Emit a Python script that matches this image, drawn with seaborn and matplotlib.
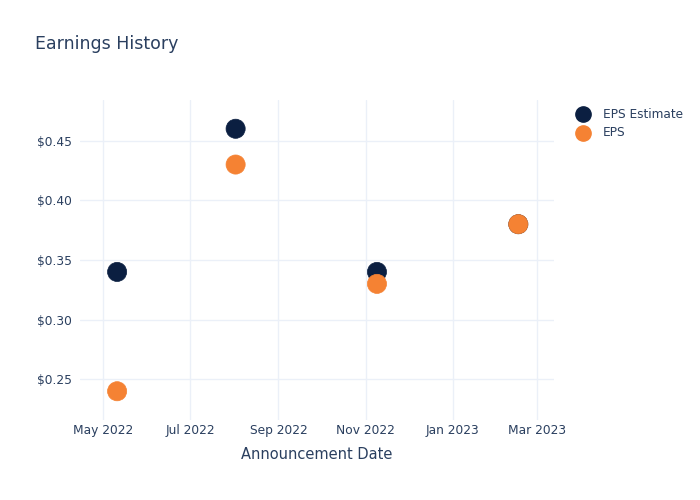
import matplotlib
matplotlib.use("Agg")
import matplotlib.pyplot as plt
import matplotlib.dates as mdates
import seaborn as sns
import pandas as pd
from matplotlib.ticker import FuncFormatter

dates = ["2022-05-11", "2022-08-02", "2022-11-09", "2023-02-16"]
eps_estimate = [0.34, 0.46, 0.34, 0.38]
eps_actual = [0.24, 0.43, 0.33, 0.38]
series_names = ["EPS Estimate", "EPS"]
tick_dates = ["2022-05-01", "2022-07-01", "2022-09-01", "2022-11-01", "2023-01-01", "2023-03-01"]
tick_labels = ["May 2022", "Jul 2022", "Sep 2022", "Nov 2022", "Jan 2023", "Mar 2023"]
y_ticks = [0.25, 0.30, 0.35, 0.40, 0.45]

df = pd.DataFrame({
    "date": pd.to_datetime(dates * 2),
    "value": eps_estimate + eps_actual,
    "series": [series_names[0]] * len(dates) + [series_names[1]] * len(dates),
})

sns.set_style("white")
plt.rcParams["font.family"] = ["DejaVu Sans"]
text_color = "#2a3f5f"
grid_color = "#EBF0F8"
palette = {"EPS Estimate": "#0B1F41", "EPS": "#F58233"}

fig = plt.figure(figsize=(7, 5), dpi=100)
ax = fig.add_axes([80/700, 1-420/500, (554-80)/700, (420-100)/500])

sns.scatterplot(data=df, x="date", y="value", hue="series", palette=palette,
                s=190, linewidth=0.5, ax=ax, legend=False, zorder=3)
for coll in ax.collections:
    coll.set_edgecolor(coll.get_facecolor())

ax.set_xlim(pd.Timestamp("2022-04-15"), pd.Timestamp("2023-03-13"))
ax.set_ylim(0.2159, 0.4841)
ax.set_xticks(pd.to_datetime(tick_dates))
ax.set_xticklabels(tick_labels)
ax.set_yticks(y_ticks)
ax.yaxis.set_major_formatter(FuncFormatter(lambda v, p: f"${v:.2f}"))

ax.grid(True, color=grid_color, linewidth=1)
ax.set_axisbelow(True)
for sp in ax.spines.values():
    sp.set_visible(False)
ax.tick_params(axis="both", length=0, labelsize=8.8, colors=text_color)
ax.tick_params(axis="x", pad=3)
ax.tick_params(axis="y", pad=6)
ax.set_xlabel("Announcement Date", fontsize=10.5, color=text_color, labelpad=7)
ax.set_ylabel("")

fig.text(35/700, 1-44/500, "Earnings History", fontsize=12.5, color=text_color, va="center", ha="left")

for i, name in enumerate(series_names):
    yy = 1 - (114 + 19*i)/500
    fig.lines.append(matplotlib.lines.Line2D([583/700], [yy], marker="o", markersize=11,
                                             color=palette[name], linestyle="none",
                                             transform=fig.transFigure))
    fig.text(603/700, yy, name, fontsize=8.7, color=text_color, va="center", ha="left")

fig.savefig("out.png", dpi=100)
